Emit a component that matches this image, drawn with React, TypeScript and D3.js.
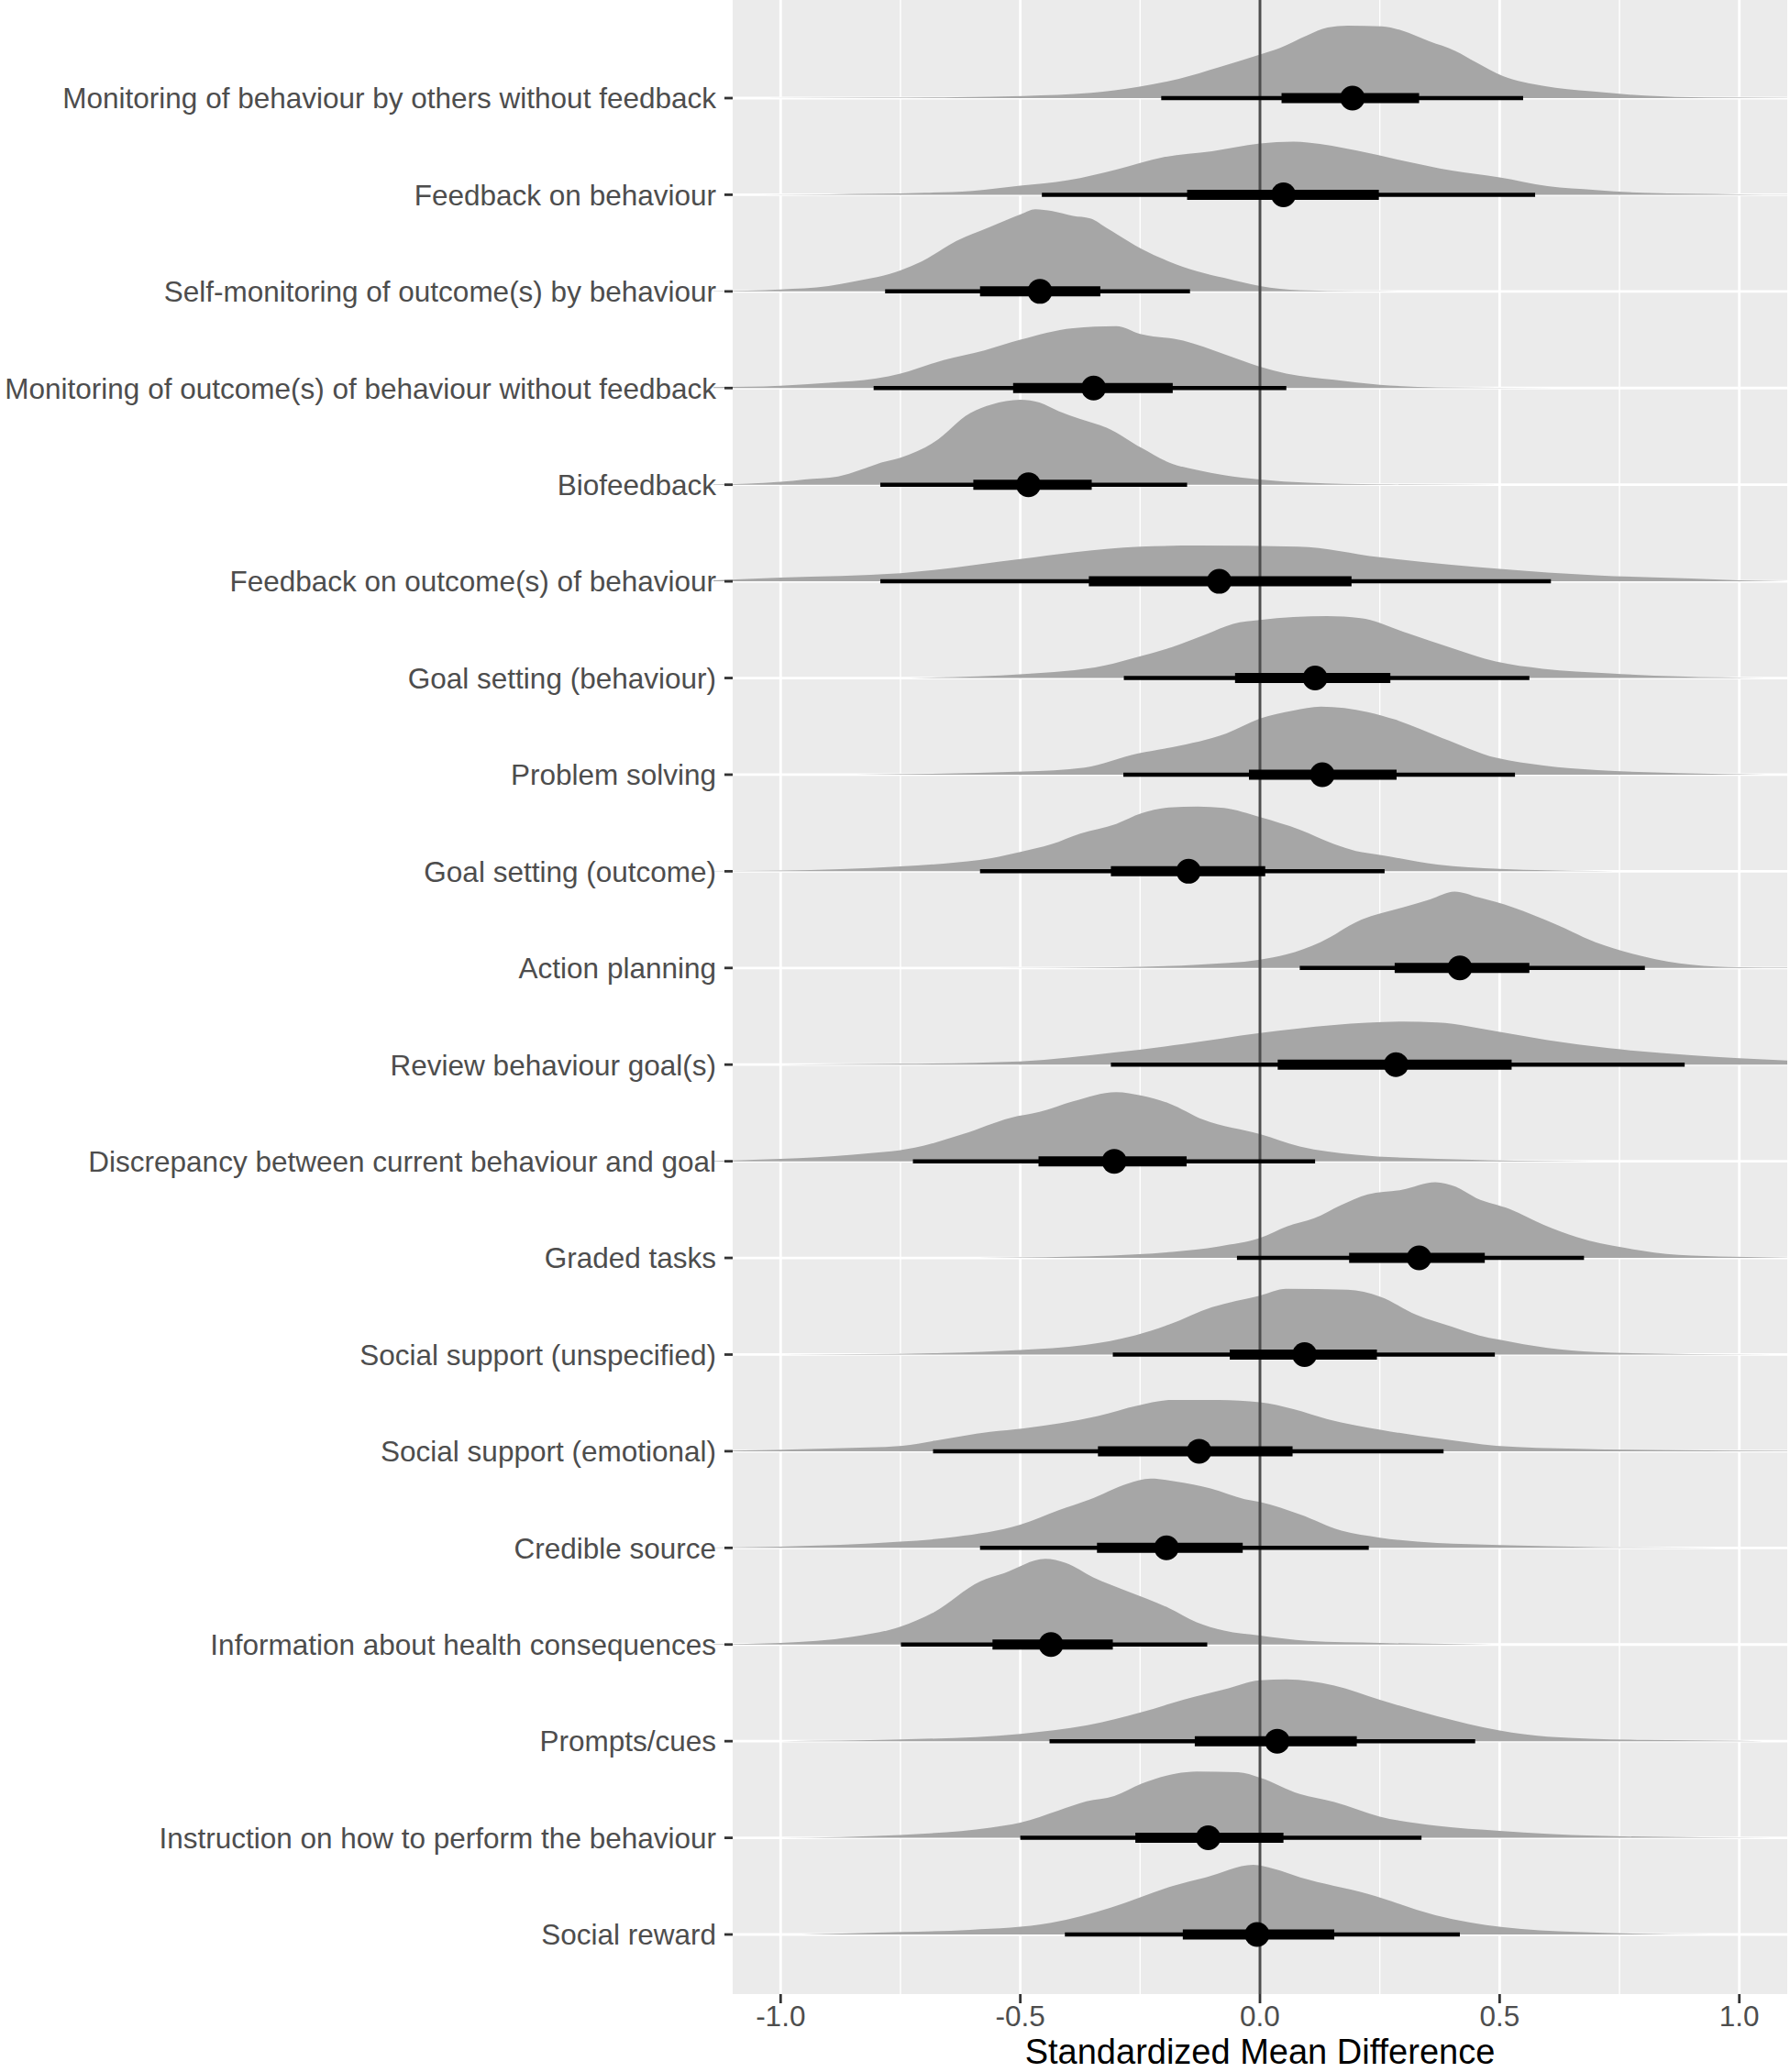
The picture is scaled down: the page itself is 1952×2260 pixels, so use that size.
import * as React from 'react';
import * as d3 from 'd3';

const W = 1952;
const H = 2260;

const labels = [
  'Monitoring of behaviour by others without feedback',
  'Feedback on behaviour',
  'Self-monitoring of outcome(s) by behaviour',
  'Monitoring of outcome(s) of behaviour without feedback',
  'Biofeedback',
  'Feedback on outcome(s) of behaviour',
  'Goal setting (behaviour)',
  'Problem solving',
  'Goal setting (outcome)',
  'Action planning',
  'Review behaviour goal(s)',
  'Discrepancy between current behaviour and goal',
  'Graded tasks',
  'Social support (unspecified)',
  'Social support (emotional)',
  'Credible source',
  'Information about health consequences',
  'Prompts/cues',
  'Instruction on how to perform the behaviour',
  'Social reward'
];

const medians = [0.193, 0.049, -0.459, -0.347, -0.483, -0.085, 0.115, 0.13, -0.149, 0.417, 0.284, -0.304, 0.332, 0.093, -0.127, -0.195, -0.436, 0.036, -0.108, -0.006];
const lo66 = [0.045, -0.152, -0.584, -0.515, -0.598, -0.357, -0.052, -0.023, -0.311, 0.281, 0.037, -0.462, 0.186, -0.063, -0.338, -0.34, -0.558, -0.136, -0.26, -0.161];
const hi66 = [0.332, 0.248, -0.333, -0.182, -0.351, 0.191, 0.272, 0.285, 0.011, 0.562, 0.525, -0.153, 0.469, 0.244, 0.068, -0.036, -0.307, 0.202, 0.049, 0.155];
const lo95 = [-0.206, -0.455, -0.782, -0.806, -0.792, -0.792, -0.284, -0.285, -0.584, 0.083, -0.311, -0.724, -0.048, -0.307, -0.682, -0.584, -0.749, -0.439, -0.5, -0.407];
const hi95 = [0.549, 0.574, -0.146, 0.055, -0.152, 0.607, 0.562, 0.532, 0.26, 0.803, 0.886, 0.115, 0.676, 0.49, 0.383, 0.227, -0.11, 0.449, 0.337, 0.417];

// slab outlines: [x, height as fraction of row step]
const densities: [number, number][][] = [
  [[-1.035, 0], [-0.8, 0.004], [-0.634, 0.01], [-0.493, 0.022], [-0.352, 0.054], [-0.254, 0.117], [-0.169, 0.2], [-0.085, 0.32], [0, 0.45], [0.042, 0.52], [0.099, 0.65], [0.141, 0.73], [0.183, 0.75], [0.254, 0.743], [0.296, 0.7], [0.352, 0.59], [0.408, 0.487], [0.451, 0.37], [0.507, 0.228], [0.592, 0.126], [0.69, 0.07], [0.803, 0.025], [0.93, 0.006], [1.1, 0.002]],
  [[-1.05, 0], [-0.9, 0.005], [-0.8, 0.01], [-0.7, 0.02], [-0.6, 0.04], [-0.5, 0.093], [-0.4, 0.15], [-0.3, 0.26], [-0.2, 0.39], [-0.1, 0.45], [0, 0.53], [0.07, 0.55], [0.1, 0.54], [0.2, 0.46], [0.3, 0.35], [0.4, 0.25], [0.5, 0.18], [0.6, 0.09], [0.7, 0.05], [0.8, 0.02], [0.9, 0.01], [1.0, 0.004], [1.1, 0.002]],
  [[-1.14, 0.004], [-1.0, 0.02], [-0.9, 0.055], [-0.849, 0.1], [-0.749, 0.22], [-0.706, 0.31], [-0.634, 0.52], [-0.562, 0.67], [-0.498, 0.8], [-0.469, 0.85], [-0.433, 0.83], [-0.39, 0.78], [-0.354, 0.755], [-0.318, 0.65], [-0.247, 0.44], [-0.19, 0.31], [-0.132, 0.21], [-0.075, 0.14], [0, 0.055], [0.083, 0.013], [0.2, 0.004], [0.48, 0]],
  [[-1.14, 0.01], [-1.0, 0.025], [-0.9, 0.055], [-0.8, 0.1], [-0.75, 0.15], [-0.66, 0.29], [-0.575, 0.39], [-0.5, 0.5], [-0.39, 0.62], [-0.3, 0.64], [-0.25, 0.56], [-0.16, 0.49], [-0.075, 0.35], [0, 0.22], [0.055, 0.15], [0.155, 0.085], [0.25, 0.034], [0.37, 0.008], [0.62, 0]],
  [[-1.14, 0.004], [-1.0, 0.03], [-0.95, 0.055], [-0.88, 0.085], [-0.835, 0.15], [-0.79, 0.23], [-0.75, 0.28], [-0.68, 0.44], [-0.605, 0.74], [-0.56, 0.83], [-0.5, 0.88], [-0.46, 0.85], [-0.42, 0.76], [-0.375, 0.68], [-0.32, 0.59], [-0.247, 0.38], [-0.19, 0.23], [-0.13, 0.15], [-0.075, 0.1], [0, 0.055], [0.1, 0.02], [0.25, 0.004], [0.5, 0]],
  [[-1.14, 0.01], [-1.0, 0.04], [-0.75, 0.085], [-0.5, 0.23], [-0.39, 0.3], [-0.25, 0.36], [-0.13, 0.37], [0.08, 0.36], [0.25, 0.25], [0.5, 0.13], [0.7, 0.063], [0.9, 0.03], [1.0, 0.01], [1.1, 0.002]],
  [[-0.732, 0], [-0.493, 0.04], [-0.323, 0.13], [-0.253, 0.22], [-0.183, 0.32], [-0.113, 0.45], [-0.056, 0.56], [0, 0.6], [0.14, 0.64], [0.21, 0.62], [0.31, 0.46], [0.394, 0.32], [0.492, 0.17], [0.59, 0.095], [0.73, 0.047], [0.872, 0.016], [1.055, 0]],
  [[-0.845, 0], [-0.493, 0.032], [-0.366, 0.073], [-0.254, 0.22], [-0.183, 0.285], [-0.07, 0.427], [0, 0.58], [0.07, 0.664], [0.127, 0.705], [0.225, 0.648], [0.282, 0.57], [0.38, 0.38], [0.493, 0.174], [0.592, 0.095], [0.704, 0.047], [0.873, 0.016], [1.056, 0]],
  [[-1.14, 0.004], [-1.0, 0.008], [-0.75, 0.05], [-0.66, 0.08], [-0.56, 0.136], [-0.5, 0.2], [-0.435, 0.28], [-0.375, 0.39], [-0.3, 0.49], [-0.247, 0.6], [-0.19, 0.66], [-0.13, 0.67], [-0.075, 0.655], [0, 0.56], [0.083, 0.43], [0.155, 0.28], [0.2, 0.21], [0.25, 0.17], [0.37, 0.07], [0.5, 0.025], [0.7, 0.004], [0.8, 0]],
  [[-0.555, 0], [-0.3, 0.008], [-0.13, 0.034], [0, 0.085], [0.055, 0.14], [0.126, 0.267], [0.212, 0.5], [0.298, 0.627], [0.355, 0.71], [0.406, 0.79], [0.456, 0.73], [0.528, 0.627], [0.614, 0.458], [0.7, 0.267], [0.8, 0.12], [0.9, 0.034], [1.0, 0.008], [1.1, 0.004]],
  [[-1.0, 0], [-0.75, 0.008], [-0.5, 0.034], [-0.3, 0.127], [-0.16, 0.212], [0, 0.326], [0.155, 0.41], [0.298, 0.445], [0.37, 0.436], [0.5, 0.339], [0.6, 0.254], [0.728, 0.17], [0.9, 0.097], [1.1, 0.042]],
  [[-1.14, 0.004], [-1.0, 0.025], [-0.85, 0.068], [-0.72, 0.14], [-0.62, 0.28], [-0.52, 0.45], [-0.46, 0.51], [-0.39, 0.62], [-0.3, 0.716], [-0.247, 0.68], [-0.19, 0.6], [-0.118, 0.43], [0, 0.28], [0.083, 0.153], [0.2, 0.068], [0.37, 0.025], [0.585, 0.004], [0.7, 0]],
  [[-0.69, 0], [-0.493, 0.006], [-0.31, 0.025], [-0.183, 0.063], [-0.085, 0.12], [0, 0.206], [0.056, 0.326], [0.113, 0.41], [0.169, 0.547], [0.225, 0.658], [0.296, 0.705], [0.366, 0.784], [0.408, 0.737], [0.451, 0.62], [0.521, 0.506], [0.592, 0.342], [0.662, 0.215], [0.761, 0.104], [0.873, 0.032], [0.986, 0.013], [1.1, 0.003]],
  [[-1.0, 0], [-0.66, 0.017], [-0.5, 0.047], [-0.365, 0.1], [-0.26, 0.2], [-0.19, 0.31], [-0.1, 0.49], [0, 0.61], [0.055, 0.68], [0.183, 0.67], [0.25, 0.6], [0.327, 0.41], [0.4, 0.288], [0.456, 0.2], [0.5, 0.153], [0.6, 0.068], [0.7, 0.025], [0.9, 0.004], [1.07, 0]],
  [[-1.1, 0.006], [-0.887, 0.03], [-0.746, 0.057], [-0.676, 0.11], [-0.563, 0.2], [-0.493, 0.237], [-0.338, 0.364], [-0.254, 0.474], [-0.183, 0.53], [-0.085, 0.53], [0, 0.506], [0.07, 0.436], [0.141, 0.332], [0.254, 0.22], [0.38, 0.126], [0.493, 0.057], [0.662, 0.025], [0.873, 0.01], [1.1, 0.003]],
  [[-1.14, 0.004], [-1.0, 0.013], [-0.75, 0.064], [-0.635, 0.114], [-0.5, 0.24], [-0.42, 0.39], [-0.355, 0.5], [-0.276, 0.665], [-0.228, 0.716], [-0.175, 0.686], [-0.103, 0.614], [-0.032, 0.504], [0, 0.475], [0.083, 0.347], [0.17, 0.178], [0.25, 0.106], [0.37, 0.05], [0.5, 0.03], [0.7, 0.008], [0.96, 0]],
  [[-1.14, 0.004], [-1.0, 0.017], [-0.85, 0.08], [-0.75, 0.186], [-0.68, 0.335], [-0.584, 0.653], [-0.534, 0.737], [-0.448, 0.886], [-0.405, 0.843], [-0.348, 0.695], [-0.275, 0.547], [-0.19, 0.377], [-0.132, 0.23], [-0.075, 0.144], [0, 0.093], [0.1, 0.038], [0.25, 0.017], [0.485, 0]],
  [[-1.0, 0], [-0.75, 0.017], [-0.5, 0.076], [-0.36, 0.165], [-0.247, 0.3], [-0.16, 0.428], [-0.075, 0.534], [0, 0.63], [0.055, 0.64], [0.155, 0.576], [0.25, 0.428], [0.37, 0.258], [0.5, 0.11], [0.6, 0.047], [0.8, 0.013], [1.0, 0.004], [1.05, 0]],
  [[-1.0, 0], [-0.75, 0.03], [-0.562, 0.106], [-0.5, 0.157], [-0.42, 0.284], [-0.362, 0.377], [-0.304, 0.432], [-0.247, 0.56], [-0.175, 0.665], [-0.132, 0.686], [-0.046, 0.678], [0, 0.623], [0.083, 0.453], [0.155, 0.37], [0.25, 0.22], [0.37, 0.123], [0.5, 0.072], [0.7, 0.021], [1.07, 0]],
  [[-0.957, 0], [-0.746, 0.025], [-0.605, 0.047], [-0.436, 0.12], [-0.31, 0.28], [-0.183, 0.5], [-0.113, 0.59], [-0.014, 0.72], [0.028, 0.68], [0.084, 0.59], [0.225, 0.42], [0.366, 0.2], [0.507, 0.075], [0.661, 0.025], [0.943, 0]]
];

const xTicks = [-1.0, -0.5, 0.0, 0.5, 1.0];
const xMinor = [-0.75, -0.25, 0.25, 0.75];

const panel = {left: 799, right: 1949, top: 0, bottom: 2175};

export default function App() {
  const x = d3.scaleLinear().domain([-1.1, 1.1]).range([panel.left, panel.right]);
  const y = d3.scalePoint<string>().domain(labels).range([107, 2110]);
  const step = y.step();
  const hScale = d3.scaleLinear().domain([0, 1]).range([0, step]);

  const font = '"Liberation Sans", Arial, Helvetica, sans-serif';

  return (
    <svg width={W} height={H} style={{position: 'absolute', left: 0, top: 0, background: '#fff'}}
      fontFamily={font}>
      <rect x={panel.left} y={panel.top} width={panel.right - panel.left}
        height={panel.bottom - panel.top} fill="#EBEBEB"/>
      {xMinor.map(t => (
        <line key={'mi' + t} x1={x(t)} x2={x(t)} y1={panel.top} y2={panel.bottom}
          stroke="#fff" strokeWidth={1.4}/>
      ))}
      {xTicks.map(t => (
        <line key={'ma' + t} x1={x(t)} x2={x(t)} y1={panel.top} y2={panel.bottom}
          stroke="#fff" strokeWidth={2.8}/>
      ))}
      {labels.map(l => (
        <line key={'hg' + l} x1={panel.left} x2={panel.right} y1={y(l)} y2={y(l)}
          stroke="#fff" strokeWidth={2.8}/>
      ))}
      {labels.map((l, i) => {
        const base = y(l)!;
        const area = d3.area<[number, number]>()
          .x(d => x(d[0]))
          .y0(base)
          .y1(d => base - hScale(d[1]))
          .curve(d3.curveMonotoneX);
        return <path key={'s' + l} d={area(densities[i]) || ''} fill="#A6A6A6"/>;
      })}
      <line x1={x(0)} x2={x(0)} y1={panel.top} y2={panel.bottom} stroke="#4D4D4D"
        strokeWidth={3}/>
      {labels.map((l, i) => {
        const cy = y(l)!;
        return (
          <g key={'iv' + l}>
            <line x1={x(lo95[i])} x2={x(hi95[i])} y1={cy} y2={cy} stroke="#000" strokeWidth={4.5}/>
            <line x1={x(lo66[i])} x2={x(hi66[i])} y1={cy} y2={cy} stroke="#000" strokeWidth={11}/>
            <circle cx={x(medians[i])} cy={cy} r={13.5} fill="#000"/>
          </g>
        );
      })}
      {labels.map(l => (
        <g key={'yt' + l}>
          <line x1={panel.left - 9} x2={panel.left} y1={y(l)} y2={y(l)} stroke="#333"
            strokeWidth={2.8}/>
          <text x={781} y={y(l)} dy="0.36em" textAnchor="end" fontSize={31.5}
            fill="#4D4D4D">{l}</text>
        </g>
      ))}
      {xTicks.map(t => (
        <g key={'xt' + t}>
          <line x1={x(t)} x2={x(t)} y1={panel.bottom} y2={panel.bottom + 10} stroke="#333"
            strokeWidth={2.8}/>
          <text x={x(t)} y={2210} textAnchor="middle" fontSize={31.5} fill="#4D4D4D">
            {d3.format('.1f')(t).replace('−', '-')}
          </text>
        </g>
      ))}
      <text x={(panel.left + panel.right) / 2} y={2251} textAnchor="middle" fontSize={38}
        fill="#000">Standardized Mean Difference</text>
    </svg>
  );
}
